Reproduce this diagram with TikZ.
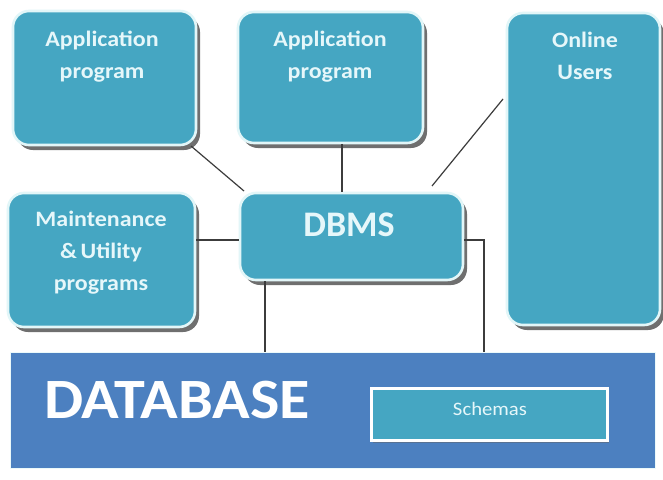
\documentclass[tikz,border=0pt]{standalone}
\usepackage{fontspec}
\setmainfont{Carlito}
\newfontfamily\widefont{Carlito}[FakeStretch=1.09]
\usetikzlibrary{shadows}
\definecolor{boxfill}{HTML}{45A6C2}
\definecolor{boxedge}{HTML}{E2F6F8}
\definecolor{txtc}{HTML}{E6F7FA}
\definecolor{dbfill}{HTML}{4C80C0}
\definecolor{linec}{HTML}{3C3C3C}
\begin{document}
\begin{tikzpicture}[x=1pt,y=-1pt,
  box/.style={draw=boxedge,line width=2.6pt,fill=boxfill,rounded corners=16pt,
    inner sep=0pt,
    drop shadow={shadow xshift=4pt,shadow yshift=-5pt,fill=black!75,opacity=0.75}},
  lbl/.style={text=txtc,font=\widefont\bfseries\fontsize{22}{32}\selectfont,align=center,anchor=north,inner sep=0pt},
  conn/.style={draw=linec,line width=1.2pt}]
\useasboundingbox (0,0) rectangle (663,479);
\fill[white] (0,0) rectangle (663,479);
% database
\node[draw=boxedge!70,line width=1pt,fill=dbfill,minimum width=645pt,minimum height=116pt,inner sep=0pt] (db) at (332.5,410) {};
\node[text=white,font=\widefont\bfseries\fontsize{57}{60}\selectfont,anchor=base west,inner sep=0pt] (dbt) at (44,418) {DATABASE};
\node[draw=white,line width=3pt,fill=boxfill,minimum width=236pt,minimum height=52pt,inner sep=0pt,
  drop shadow={shadow xshift=2pt,shadow yshift=-3pt,fill=black!60,opacity=0.5}] (sch) at (489,414) {};
\node[text=txtc,font=\widefont\fontsize{19}{20}\selectfont,inner sep=0pt] (scht) at (490,409) {Schemas};
% boxes
\node[box,minimum width=183pt,minimum height=134pt] (app1) at (104.5,78) {};
\node[box,minimum width=185pt,minimum height=131pt] (app2) at (330.5,77.5) {};
\node[box,minimum width=153pt,minimum height=312pt] (onl) at (583.5,169) {};
\node[box,minimum width=187pt,minimum height=134pt] (mnt) at (101.5,260) {};
\node[box,minimum width=223pt,minimum height=87pt] (dbms) at (351.5,236.5) {};
% labels
\node[lbl] (app1t) at (102,31) {Application\\program};
\node[lbl] (app2t) at (330,31) {Application\\program};
\node[lbl] (onlt) at (585,32) {Online\\Users};
\node[lbl] (mntt) at (101,211) {Maintenance\\\&\,Utility\\programs};
\node[text=txtc,font=\bfseries\fontsize{36}{40}\selectfont,inner sep=0pt] (dbmst) at (349,225) {DBMS};
% connectors
\coordinate (a1) at (191,146);
\coordinate (d1) at (244,191);
\draw[conn] (a1) -- (d1);
\draw[conn] (app2.south -| 342,0) -- (dbms.north -| 342,0);
\coordinate (o1) at (503,99);
\coordinate (d2) at (432,186);
\draw[conn] (o1) -- (d2);
\draw[conn] (mnt.east |- 0,240) -- (dbms.west |- 0,240);
\draw[conn] (dbms.south -| 265,0) -- (db.north -| 265,0);
\draw[conn] (dbms.east |- 0,240) -| (db.north -| 484,0);
\end{tikzpicture}
\end{document}
